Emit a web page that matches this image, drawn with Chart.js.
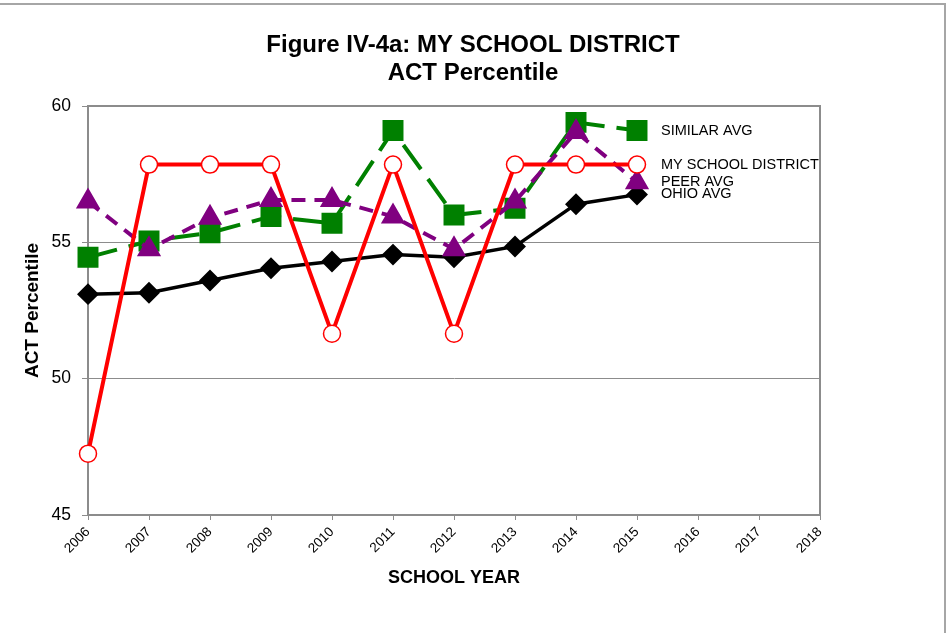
<!DOCTYPE html>
<html>
<head>
<meta charset="utf-8">
<script src="https://cdn.jsdelivr.net/npm/chart.js@4/dist/chart.umd.min.js"></script>
<style>
  html, body { margin: 0; padding: 0; background: #fff; }
  #wrap { position: relative; width: 946px; height: 633px; }
</style>
</head>
<body>
<div id="wrap"><canvas id="actChart"></canvas></div>
<script>
// === data ===
const years = ['2006', '2007', '2008', '2009', '2010', '2011', '2012', '2013', '2014', '2015', '2016', '2017', '2018'];
const districtVals = [47.25, 57.85, 57.85, 57.85, 51.65, 57.85, 51.65, 57.85, 57.85, 57.85, null, null, null];
const peerAvg      = [56.5, 54.75, 55.9, 56.55, 56.55, 55.95, 54.75, 56.5, 59.05, 57.2, null, null, null];
const similarAvg   = [54.45, 55.05, 55.35, 55.95, 55.7, 59.1, 56.0, 56.25, 59.4, 59.1, null, null, null];
const ohioAvg      = [53.1, 53.15, 53.6, 54.05, 54.3, 54.55, 54.45, 54.85, 56.4, 56.75, null, null, null];
const yTicks = [45, 50, 55, 60];

const FONT = "'Liberation Sans', Arial, sans-serif";
const GRAY = '#8c8c8c';

// frame around the whole figure + top/right edges of the plot box
const framePlugin = {
  id: 'frame',
  afterDraw(chart) {
    const { ctx, chartArea: a } = chart;
    ctx.save();
    ctx.strokeStyle = '#a6a6a6';
    ctx.lineWidth = 2;
    ctx.beginPath();
    ctx.moveTo(0, 4); ctx.lineTo(945, 4); ctx.lineTo(945, 633);
    ctx.stroke();
    ctx.strokeStyle = GRAY;
    ctx.beginPath();
    ctx.moveTo(a.left, a.top); ctx.lineTo(a.right, a.top); ctx.lineTo(a.right, a.bottom);
    ctx.stroke();
    ctx.restore();
  }
};

// series names written next to the last point of each line
const endLabels = {
  id: 'endLabels',
  afterDatasetsDraw(chart) {
    const { ctx, scales: { x, y } } = chart;
    ctx.save();
    ctx.font = '14.5px ' + FONT;
    ctx.fillStyle = '#000';
    ctx.textBaseline = 'middle';
    chart.data.datasets.forEach(ds => {
      let i = ds.data.length - 1;
      while (i >= 0 && ds.data[i] == null) i--;
      ctx.fillText(ds.label, x.getPixelForValue(i) + 24, y.getPixelForValue(ds.data[i]) + (ds.labelShift || 0));
    });
    ctx.restore();
  }
};

const ctx = document.getElementById('actChart').getContext('2d');
new Chart(ctx, {
  type: 'line',
  data: {
    labels: years,
    datasets: [
      { label: 'SIMILAR AVG', data: similarAvg, borderColor: '#008000', backgroundColor: '#008000',
        borderWidth: 4, borderDash: [30, 12], pointStyle: 'rect', pointRadius: 12,
        pointBorderColor: '#008000', pointBackgroundColor: '#008000', order: 3 },
      { label: 'MY SCHOOL DISTRICT', data: districtVals, borderColor: '#ff0000', backgroundColor: '#fff',
        borderWidth: 4, pointStyle: 'circle', pointRadius: 8.5, pointBorderWidth: 1.5,
        pointBorderColor: '#ff0000', pointBackgroundColor: '#fff', order: 1 },
      { label: 'PEER AVG', data: peerAvg, borderColor: '#800080', backgroundColor: '#800080',
        borderWidth: 4, borderDash: [14, 9], pointStyle: 'triangle', pointRadius: 10,
        pointBorderColor: '#800080', pointBackgroundColor: '#800080', order: 2 },
      { label: 'OHIO AVG', data: ohioAvg, borderColor: '#000', backgroundColor: '#000',
        borderWidth: 3.5, pointStyle: 'rectRot', pointRadius: 8.5,
        pointBorderColor: '#000', pointBackgroundColor: '#000', order: 4, labelShift: -1 }
    ]
  },
  options: {
    responsive: true,
    maintainAspectRatio: false,
    animation: false,
    spanGaps: false,
    layout: { padding: 0 },
    plugins: {
      legend: { display: false },
      tooltip: { enabled: false },
      title: {
        display: true,
        text: ['Figure IV-4a: MY SCHOOL DISTRICT', 'ACT Percentile'],
        color: '#000',
        font: { family: FONT, size: 24, weight: 'bold', lineHeight: 1.1667 },
        padding: { top: 31, bottom: 19 }
      }
    },
    scales: {
      x: {
        offset: false,
        grid: { display: true, drawOnChartArea: false, drawTicks: true, tickLength: 5, color: GRAY },
        border: { color: GRAY, width: 2 },
        ticks: { color: '#000', font: { family: FONT, size: 13.5 }, minRotation: 45, maxRotation: 45, padding: 4, autoSkip: false },
        title: { display: true, text: 'SCHOOL YEAR', color: '#000', font: { family: FONT, size: 18, weight: 'bold' }, padding: { bottom: 44 } },
        afterFit: s => { s.height = 118; }
      },
      y: {
        min: 45, max: 60,
        afterBuildTicks: s => { s.ticks = yTicks.map(v => ({ value: v })); },
        grid: { color: GRAY, lineWidth: 1, tickLength: 6 },
        border: { color: GRAY, width: 2 },
        ticks: { color: '#000', font: { family: FONT, size: 17.5 }, padding: 11 },
        title: { display: true, text: 'ACT Percentile', color: '#000', font: { family: FONT, size: 19, weight: 'bold' }, padding: { top: 21 } },
        afterFit: s => { s.width = 88; }
      },
      yRight: {
        position: 'right',
        display: true,
        grid: { display: false },
        border: { display: false },
        ticks: { display: false },
        afterFit: s => { s.width = 126; }
      }
    }
  },
  plugins: [framePlugin, endLabels]
});
</script>
</body>
</html>
